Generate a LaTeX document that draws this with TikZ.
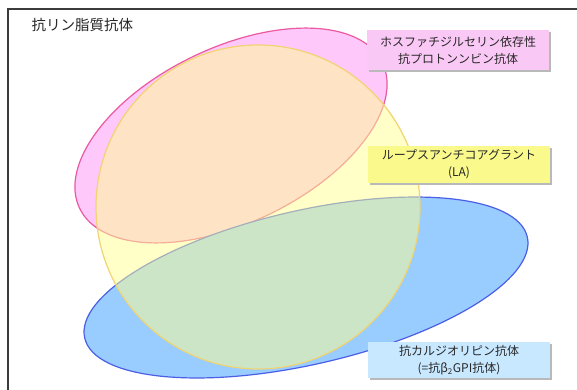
\documentclass[tikz,border=0pt]{standalone}
\usepackage{fontspec}
\newfontfamily\jpfont{Noto Sans CJK JP}
\usetikzlibrary{shadows}

\definecolor{framecol}{RGB}{60,60,60}
\definecolor{textcol}{RGB}{40,40,40}
\definecolor{pinkfill}{RGB}{255,200,250}
\definecolor{pinkline}{RGB}{235,90,160}
\definecolor{bluefill}{RGB}{153,204,255}
\definecolor{blueline}{RGB}{75,95,230}
\definecolor{yelfill}{RGB}{255,255,145}
\definecolor{yelline}{RGB}{240,212,115}
\definecolor{pinkbox}{RGB}{250,200,245}
\definecolor{yelbox}{RGB}{250,250,140}
\definecolor{bluebox}{RGB}{200,232,255}

\begin{document}
\begin{tikzpicture}
	[x=1pt,y=-1pt,
	tagbox/.style={minimum width=182pt, align=center, inner sep=0pt, text=textcol,
		font=\jpfont\fontsize{12}{17}\selectfont,
		drop shadow={shadow xshift=2pt, shadow yshift=-2pt, fill=gray!55, opacity=1}}]

	\clip (0,0) rectangle (577,390);
	\fill[white] (0,0) rectangle (577,390);
	\draw[framecol, line width=1.5pt] (8,9) rectangle (600,420);

	\node[anchor=west, text=textcol, font=\jpfont\fontsize{14.5}{16}\selectfont] (title) at (28,25) {抗リン脂質抗体};

	%\draw[red] (258,207) circle (2pt);
	\draw[pinkline, fill=pinkfill, line width=1.2pt, shift={(231,135.5)}, rotate=25.7] (0,0) ellipse [x radius=168pt, y radius=87.6pt];
	\draw[blueline, fill=bluefill, line width=1.2pt, shift={(306,287.5)}, rotate=12.85] (0,0) ellipse [x radius=227pt, y radius=77pt];
	\draw[yelline, fill=yelfill, fill opacity=0.5, line width=1.2pt] (258,207) circle (162pt);

	\node[tagbox, fill=pinkbox, minimum height=40pt] (ps) at (458,50) {ホスファチジルセリン依存性\\抗プロトンンビン抗体};
	\node[tagbox, fill=yelbox, minimum height=37pt] (la) at (459,164.5) {ループスアンチコアグラント\\(LA)};
	\node[tagbox, fill=bluebox, minimum height=36pt] (acl) at (459,360) {抗カルジオリピン抗体\\(=抗β\textsubscript{2}GPI抗体)};

\end{tikzpicture}
\end{document}
